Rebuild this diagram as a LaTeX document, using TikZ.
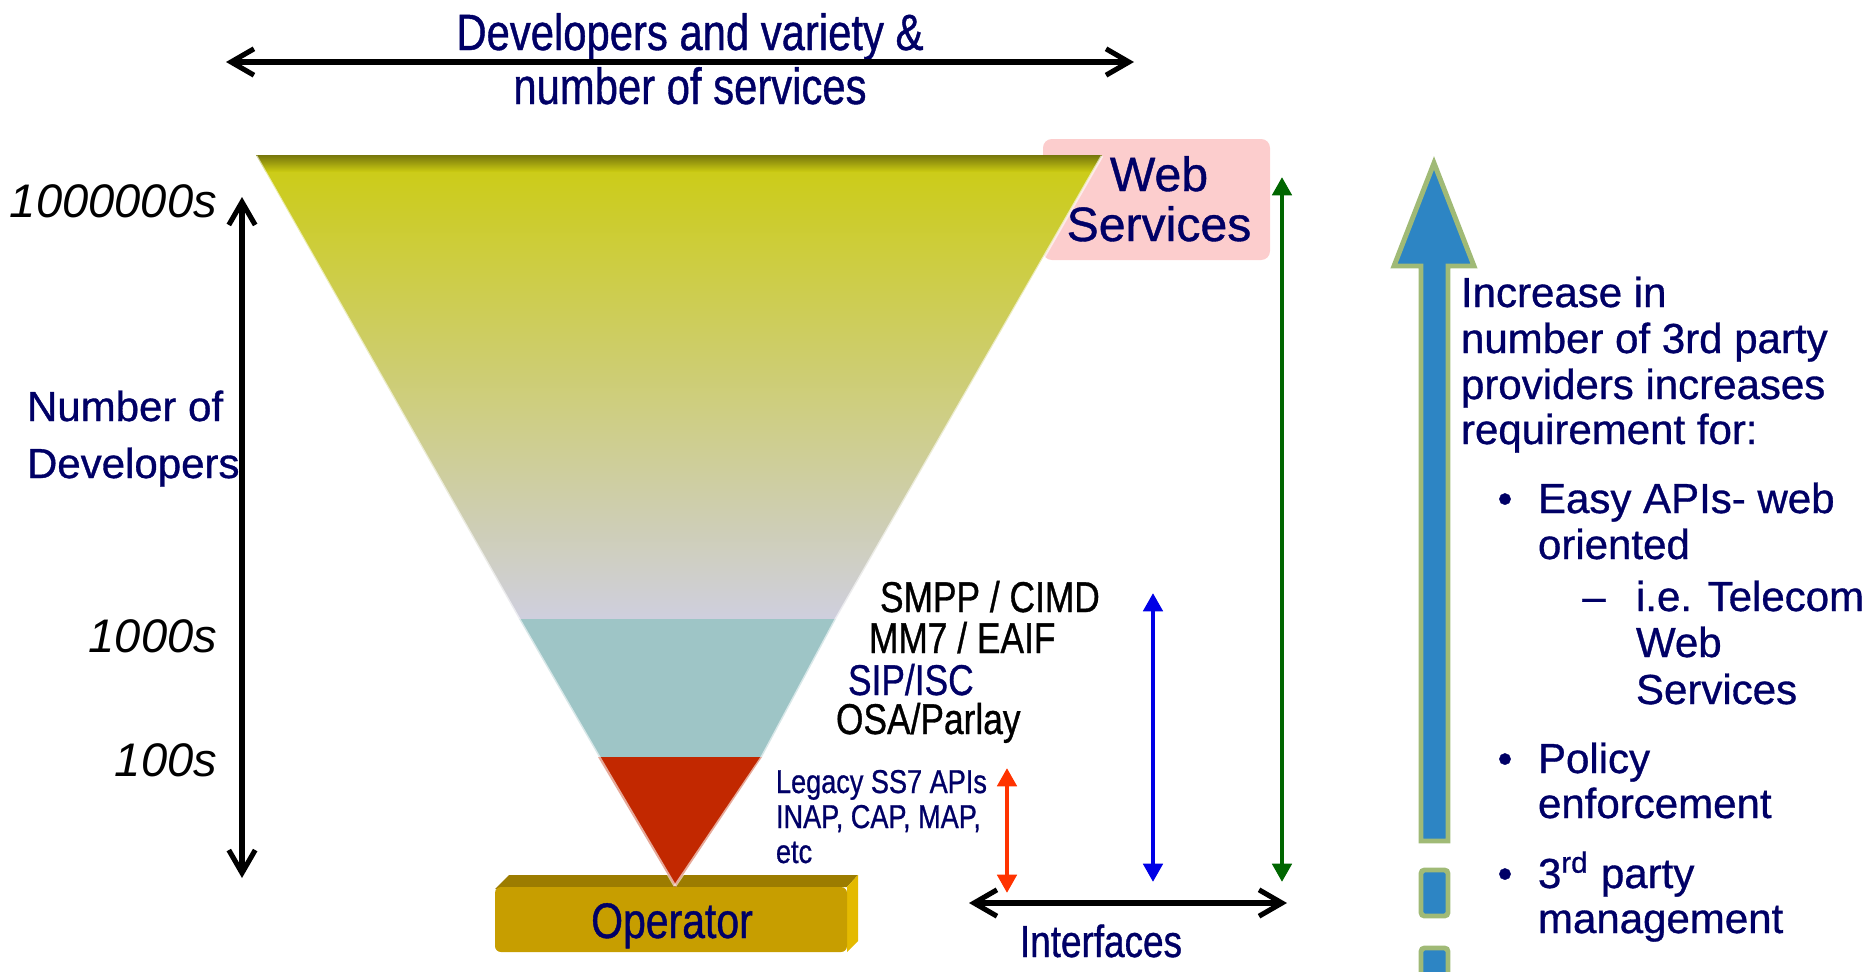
\documentclass[tikz,border=0pt]{standalone}
\usepackage{fontspec}
\setmainfont{Liberation Sans}
\newfontfamily\heavyfont[FakeBold=0.8]{Liberation Sans}
\newfontfamily\narrowfont[FakeStretch=0.82,FakeBold=0.8]{Liberation Sans}
\usetikzlibrary{arrows.meta}

\definecolor{navy}{RGB}{0,0,102}
\definecolor{ytop}{RGB}{204,204,18}
\definecolor{ymid}{RGB}{206,204,112}
\definecolor{ybot}{RGB}{207,207,222}
\definecolor{yband}{RGB}{118,118,12}
\definecolor{tealband}{RGB}{158,197,198}
\definecolor{redband}{RGB}{194,40,0}
\definecolor{opfront}{RGB}{199,158,0}
\definecolor{optop}{RGB}{156,124,0}
\definecolor{opside}{RGB}{228,186,0}
\definecolor{wspink}{RGB}{252,205,205}
\definecolor{arrgreen}{RGB}{0,102,0}
\definecolor{arrblue}{RGB}{0,0,230}
\definecolor{arrred}{RGB}{255,51,0}
\definecolor{bigblue}{RGB}{45,133,196}
\definecolor{bigedge}{RGB}{160,186,118}

\tikzset{
  txt/.style={inner sep=0pt, outer sep=0pt},
  headline/.style={txt, font=\narrowfont\fontsize{14.5}{17}\selectfont, text=navy},
  scalelabel/.style={txt, font=\itshape\fontsize{13.4}{16}\selectfont, text=black},
  axislabel/.style={txt, font=\heavyfont\fontsize{11.95}{14}\selectfont, text=navy},
  wslabel/.style={txt, font=\heavyfont\fontsize{13.7}{16}\selectfont, text=navy},
  proto/.style={txt, font=\narrowfont\fontsize{12.25}{14}\selectfont, text=black},
  legacy/.style={txt, font=\narrowfont\fontsize{9.4}{11}\selectfont, text=navy},
  oplabel/.style={txt, font=\narrowfont\fontsize{14.2}{17}\selectfont, text=navy},
  iflabel/.style={txt, font=\narrowfont\fontsize{12.8}{15}\selectfont, text=navy},
  notes/.style={txt, font=\heavyfont\fontsize{11.95}{14}\selectfont, text=navy},
  barbarrow/.style={line width=1.45pt,
    {Straight Barb[length=6.5pt,width=7.5pt]}-{Straight Barb[length=6.5pt,width=7.5pt]}},
  triarrow/.style={line width=1.35pt,
    {Triangle[length=5.2pt,width=5.4pt]}-{Triangle[length=5.2pt,width=5.4pt]}},
}

\begin{document}
\begin{tikzpicture}[x=0.01cm,y=-0.01cm]
\useasboundingbox (0,0) rectangle (1868,972);

% ---------- title and horizontal scale ----------
\node[headline, anchor=base] (ttl1) at (690,50) {Developers and variety \&};
\node[headline, anchor=base] (ttl2) at (690,104) {number of services};
\coordinate (devL) at (226,62);
\coordinate (devR) at (1134,62);
\draw[barbarrow] (devL) -- (devR);

% ---------- vertical scale of developers ----------
\coordinate (numTop) at (242,197);
\coordinate (numBot) at (242,878);
\draw[barbarrow] (numTop) -- (numBot);
\node[scalelabel, anchor=base east] (mill) at (217,217) {1000000s};
\node[scalelabel, anchor=base east] (thou) at (217,652) {1000s};
\node[scalelabel, anchor=base east] (hund) at (217,776) {100s};
\node[axislabel, anchor=base west] (nd1) at (27,421) {Number of};
\node[axislabel, anchor=base west] (nd2) at (27,478) {Developers};

% ---------- web services tag ----------
\fill[wspink, rounded corners=2.5pt] (1043,139) rectangle (1270,260);
\node[wslabel, anchor=base] (ws1) at (1159,191) {Web};
\node[wslabel, anchor=base] (ws2) at (1159,241) {Services};

% ---------- operator block ----------
\fill[optop] (495,889) -- (509,875) -- (858,875) -- (847,887) -- cycle;
\fill[opside] (847,887) -- (858,875) -- (858,941) -- (847,952) -- cycle;
\fill[opfront, rounded corners=1.7pt] (495,887) rectangle (847,952);
\node[oplabel, anchor=base] (op) at (672,938) {Operator};

% ---------- funnel ----------
\shade[top color=ytop, middle color=ymid, bottom color=ybot]
  (256,155) -- (1102,155) -- (836,619) -- (519,619) -- cycle;
\shade[top color=yband, bottom color=ytop]
  (256,155) -- (1102,155) -- (1092,172) -- (265.6,172) -- cycle;
\fill[tealband] (519,619) -- (836,619) -- (762,757) -- (599,757) -- cycle;
\fill[redband] (598,757) -- (762,757) -- (675,887) -- cycle;
\draw[white, opacity=0.6, line width=0.8pt] (256,156) -- (519,619) -- (599,757) -- (675,886);
\draw[white, opacity=0.6, line width=0.8pt] (1102,156) -- (836,619) -- (762,757) -- (675,886);

% ---------- interface labels ----------
\node[proto, anchor=base west] (smpp) at (880,612) {SMPP / CIMD};
\node[proto, anchor=base west] (mm7) at (869,653) {MM7 / EAIF};
\node[proto, anchor=base west, text=navy] (sip) at (848,695) {SIP/ISC};
\node[proto, anchor=base west] (osa) at (836,734) {OSA/Parlay};
\node[legacy, anchor=base west] (lg1) at (776,793) {Legacy SS7 APIs};
\node[legacy, anchor=base west] (lg2) at (776,828) {INAP, CAP, MAP,};
\node[legacy, anchor=base west] (lg3) at (776,863) {etc};

% ---------- interface span arrows ----------
\coordinate (redTop) at (1007,768);
\coordinate (redBot) at (1007,893);
\coordinate (blueTop) at (1153,593);
\coordinate (blueBot) at (1153,882);
\coordinate (greenTop) at (1282,177);
\coordinate (greenBot) at (1282,882);
\draw[triarrow, arrred] (redTop) -- (redBot);
\draw[triarrow, arrblue] (blueTop) -- (blueBot);
\draw[triarrow, arrgreen] (greenTop) -- (greenBot);

\coordinate (ifL) at (969,903);
\coordinate (ifR) at (1287,903);
\draw[barbarrow] (ifL) -- (ifR);
\node[iflabel, anchor=base] (ifs) at (1101,957) {Interfaces};

% ---------- growth arrow ----------
\filldraw[fill=bigblue, draw=bigedge, line width=1.4pt, line join=miter]
  (1434,163) -- (1474,266) -- (1448,266) -- (1448,841) -- (1421,841)
  -- (1421,266) -- (1394,266) -- cycle;
\filldraw[fill=bigblue, draw=bigedge, line width=1.4pt, rounded corners=1pt]
  (1421,870) rectangle (1448,916);
\filldraw[fill=bigblue, draw=bigedge, line width=1.4pt, rounded corners=1pt]
  (1421,948) rectangle (1448,990);

% ---------- requirements text ----------
\node[notes, anchor=base west] (rq1) at (1461,307) {Increase in};
\node[notes, anchor=base west] (rq2) at (1461,353) {number of 3rd party};
\node[notes, anchor=base west] (rq3) at (1461,399) {providers increases};
\node[notes, anchor=base west] (rq4) at (1461,444) {requirement for:};

\node[notes, anchor=base] (b1) at (1505,513) {•};
\node[notes, anchor=base west] (e1) at (1538,513) {Easy APIs- web};
\node[notes, anchor=base west] (e2) at (1538,559) {oriented};
\node[notes, anchor=base] (d1) at (1594,611) {–};
\node[notes, anchor=base west] (t1) at (1636,611) {i.e. Telecom};
\node[notes, anchor=base west] (t2) at (1636,657) {Web};
\node[notes, anchor=base west] (t3) at (1636,704) {Services};

\node[notes, anchor=base] (b2) at (1505,773) {•};
\node[notes, anchor=base west] (p1) at (1538,773) {Policy};
\node[notes, anchor=base west] (p2) at (1538,818) {enforcement};

\node[notes, anchor=base] (b3) at (1505,888) {•};
\node[notes, anchor=base west] (m1) at (1538,888) {3\textsuperscript{rd} party};
\node[notes, anchor=base west] (m2) at (1538,933) {management};
\end{tikzpicture}
\end{document}
